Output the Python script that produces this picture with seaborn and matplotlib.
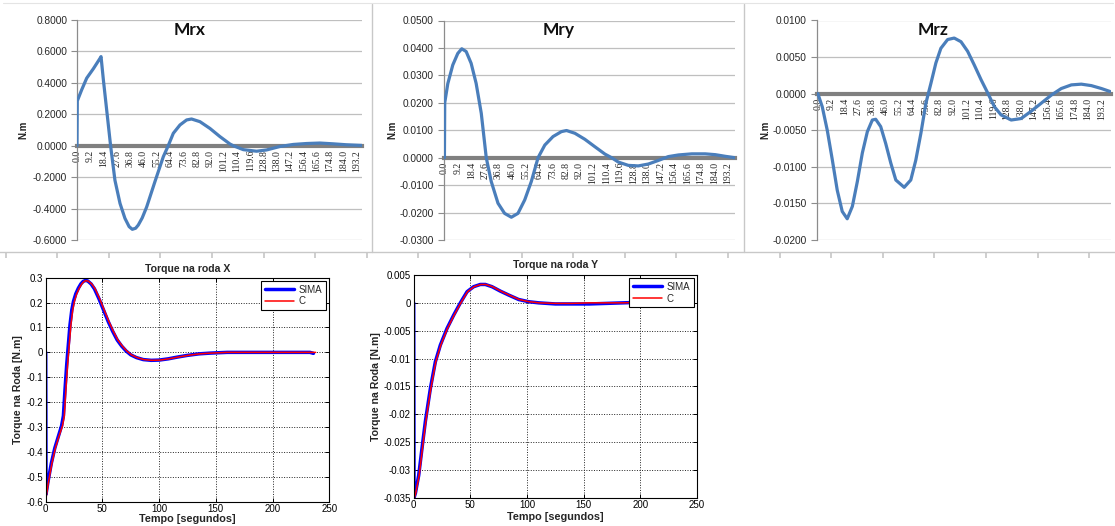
import matplotlib
matplotlib.use("Agg")
import matplotlib.pyplot as plt
import seaborn as sns
from matplotlib.lines import Line2D

# ---------------- data ----------------
cat_labels = ["0.0", "9.2", "18.4", "27.6", "36.8", "46.0", "55.2", "64.4", "73.6", "82.8",
              "92.0", "101.2", "110.4", "119.6", "128.8", "138.0", "147.2", "156.4", "165.6",
              "174.8", "184.0", "193.2"]

mrx_t = [0, 0.2, 3.2, 6.7, 11.3, 15.9, 16.6, 18.2, 20.5, 23.2, 26.2, 29.7, 33.1, 36.0, 38.2,
         40.5, 42.3, 45.0, 48.1, 53.8, 59.6, 63.0, 66.5, 71.1, 75.7, 79.1, 84.9, 91.8, 98.7,
         105.6, 107.9, 114.8, 124.0, 130.9, 140.1, 149.3, 158.5, 167.7, 176.9, 186.1, 196.5]
mrx_v = [0, 0.285, 0.355, 0.43, 0.49, 0.556, 0.567, 0.42, 0.227, 0.0, -0.22, -0.367, -0.462,
         -0.515, -0.532, -0.525, -0.505, -0.46, -0.39, -0.229, -0.07, 0.0, 0.079, 0.132, 0.164,
         0.17, 0.153, 0.11, 0.058, 0.011, 0.0, -0.025, -0.035, -0.027, -0.005, 0.008, 0.014,
         0.017, 0.012, 0.006, 0.002]

mry_t = [0, 0.2, 2.3, 5.7, 9.1, 11.8, 14.8, 18.2, 21.6, 25.1, 28.5, 31.9, 36.5, 41.0, 45.6,
         50.1, 54.7, 59.2, 63.8, 68.4, 74.0, 79.7, 83.2, 88.9, 95.7, 102.5, 109.4, 113.9,
         118.5, 125.3, 132.1, 139.0, 145.8, 152.6, 159.5, 168.6, 177.7, 184.6, 191.4, 197.8]
mry_v = [0, 0.020, 0.027, 0.0338, 0.038, 0.0397, 0.0387, 0.0344, 0.0271, 0.0162, 0.0, -0.0087,
         -0.0166, -0.0203, -0.0217, -0.0203, -0.0154, -0.0087, 0.0, 0.0046, 0.0077, 0.0095,
         0.0099, 0.0089, 0.0067, 0.004, 0.0013, 0.0, -0.0016, -0.0028, -0.003, -0.0023, -0.001,
         0.0004, 0.001, 0.0014, 0.0014, 0.0011, 0.0005, 0.0]

mrz_t = [0, 3.0, 6.4, 9.8, 13.2, 16.6, 20.0, 23.5, 26.9, 30.3, 33.7, 37.1, 39.4, 42.8, 46.2,
         49.7, 53.1, 58.8, 63.3, 66.7, 70.2, 73.6, 77.0, 80.4, 83.8, 88.4, 92.9, 97.5, 102.0,
         106.6, 111.2, 115.7, 120.3, 124.8, 131.7, 138.5, 145.3, 152.2, 159.0, 165.8, 172.7,
         179.5, 186.3, 193.2, 199.0]
mrz_v = [0, -0.0018, -0.005, -0.009, -0.0132, -0.0161, -0.0171, -0.0154, -0.012, -0.0081,
         -0.0052, -0.0036, -0.0035, -0.0045, -0.0068, -0.0095, -0.0118, -0.0128, -0.0118,
         -0.0091, -0.0054, -0.0013, 0.0014, 0.0042, 0.0062, 0.0074, 0.0076, 0.0071, 0.0058,
         0.0039, 0.0019, 0.0001, -0.0018, -0.0029, -0.0036, -0.0034, -0.0024, -0.0013,
         -0.0002, 0.0007, 0.0012, 0.0013, 0.0011, 0.0007, 0.0003]

# Torque na roda X
tx_sima_t = [0, 0.3, 2, 5, 8, 11, 14, 15.6, 17, 18.5, 19.4, 21.4, 23, 24.5, 26.5, 28.8, 31, 33,
             35, 37, 40, 43, 47, 51, 55, 59, 63, 67, 71, 75, 80, 86, 93, 100, 108, 116, 125,
             135, 145, 160, 180, 200, 220, 233, 236]
tx_sima_v = [0, -0.57, -0.52, -0.445, -0.385, -0.34, -0.295, -0.255, -0.15, -0.05, 0.0, 0.11,
             0.17, 0.205, 0.235, 0.258, 0.275, 0.285, 0.289, 0.287, 0.275, 0.255, 0.215, 0.17,
             0.125, 0.085, 0.05, 0.025, 0.005, -0.01, -0.021, -0.029, -0.032, -0.031, -0.026,
             -0.019, -0.012, -0.006, -0.003, 0.0, 0.0, 0.0, 0.0, 0.0, -0.004]
tx_c_t = [0, 0.3, 2.5, 5.5, 8.5, 11.5, 14.8, 16.4, 17.8, 19.3, 20.2, 22.2, 23.8, 25.3, 27.3,
          29.6, 31.8, 33.8, 35.6, 37.6, 40.6, 43.6, 47.6, 51.6, 55.6, 59.6, 63.6, 67.6, 71.6,
          75.6, 80.6, 86.6, 93.6, 100.6, 108.6, 116.6, 125.6, 135.6, 145.6, 160, 180, 200, 220,
          235, 238]
tx_c_v = [0, -0.585, -0.52, -0.445, -0.385, -0.34, -0.295, -0.255, -0.15, -0.05, 0.0, 0.11,
          0.17, 0.205, 0.235, 0.258, 0.275, 0.285, 0.288, 0.286, 0.275, 0.255, 0.215, 0.17,
          0.125, 0.085, 0.05, 0.025, 0.005, -0.01, -0.021, -0.029, -0.032, -0.031, -0.026,
          -0.019, -0.012, -0.006, -0.003, 0.0, 0.0, 0.0, 0.0, 0.0, 0.0]

# Torque na roda Y
ty_sima_t = [0, 0.3, 1.5, 4.4, 7.4, 10.3, 14.7, 19.1, 23.5, 29.4, 35.3, 41.2, 47.1, 52.9, 58.8,
             63.2, 69.1, 76.5, 83.8, 92.6, 101.5, 110.3, 125, 140, 155, 170, 185, 200, 220, 237]
ty_sima_v = [0, -0.035, -0.0342, -0.031, -0.026, -0.0213, -0.0154, -0.0106, -0.0076, -0.0046,
             -0.0022, 0.0, 0.002, 0.0029, 0.0033, 0.0033, 0.0029, 0.0021, 0.0014, 0.0006,
             0.0002, 0.0, -0.0002, -0.0002, -0.0002, -0.0001, 0.0, 0.0001, 0.0001, 0.0001]
ty_c_t = [0, 0.3, 1.8, 4.8, 7.8, 10.7, 15.1, 19.5, 23.9, 29.8, 35.7, 41.6, 47.5, 53.3, 59.2,
          63.6, 69.5, 76.9, 84.2, 93.0, 101.9, 110.7, 125, 140, 155, 170, 185, 200, 220, 237]
ty_c_v = [0, -0.0352, -0.0342, -0.031, -0.026, -0.0213, -0.0154, -0.0106, -0.0076, -0.0046,
          -0.0022, 0.0, 0.002, 0.0029, 0.0033, 0.0033, 0.0029, 0.0021, 0.0014, 0.0006,
          0.0002, 0.0, -0.0001, -0.0001, 0.0, 0.0, 0.0, 0.0001, 0.0001, 0.0001]

tx_yticks = [0.3, 0.2, 0.1, 0, -0.1, -0.2, -0.3, -0.4, -0.5, -0.6]
tx_ylabels = ["0.3", "0.2", "0.1", "0", "-0.1", "-0.2", "-0.3", "-0.4", "-0.5", "-0.6"]
ty_yticks = [0.005, 0, -0.005, -0.01, -0.015, -0.02, -0.025, -0.03, -0.035]
ty_ylabels = ["0.005", "0", "-0.005", "-0.01", "-0.015", "-0.02", "-0.025", "-0.03", "-0.035"]
t_xticks = [0, 50, 100, 150, 200, 250]

# ---------------- style ----------------
sns.set_theme(style="white")
plt.rcParams['font.family'] = ['Liberation Sans', 'DejaVu Sans']
plt.rcParams['axes.unicode_minus'] = False

W, H = 1115, 526
fig = plt.figure(figsize=(W / 100, H / 100), dpi=100, facecolor='white')


def rect(l, t, r, b):
    return [l / W, 1 - b / H, (r - l) / W, (b - t) / H]


# decorative frame of the Excel chart strip
for xs in (372, 744):
    fig.add_artist(Line2D([xs / W, xs / W], [1 - 4 / H, 1 - 252 / H],
                          transform=fig.transFigure, color='#c8c8c8', lw=1.0))
fig.add_artist(Line2D([3 / W, 1113 / W], [1 - 3 / H, 1 - 3 / H],
                      transform=fig.transFigure, color='#e4e4e4', lw=0.8))
ruler = fig.add_axes([0, 1 - 252 / H, 1, 0.0005])
ruler.set_xlim(0, W)
for s in ['left', 'right', 'bottom']:
    ruler.spines[s].set_visible(False)
ruler.spines['top'].set_color('#c8c8c8')
ruler.spines['top'].set_linewidth(1.0)
ruler.set_yticks([])
ruler.set_xticks([5.5 + 51.6 * k for k in range(22)])
ruler.xaxis.set_ticks_position('top')
ruler.tick_params(axis='x', direction='in', length=4, color='#c8c8c8', labeltop=False,
                  labelbottom=False)
ruler.patch.set_alpha(0)

cat_pos = [float(s) for s in cat_labels]


def excel_panel(r, t, v, title, ylim, yticks, xlim, ylabel_x):
    ax = fig.add_axes(r)
    sns.lineplot(x=t, y=v, ax=ax, color='#4a7ebb', lw=2.3, sort=False, estimator=None,
                 zorder=3)
    ax.set_xlim(*xlim)
    ax.set_ylim(*ylim)
    ax.set_yticks(yticks)
    ax.set_yticklabels([f"{y:.4f}" for y in yticks], fontsize=7.3, color='#262626')
    ax.yaxis.grid(True, color='#bfbfbf', lw=0.9)
    ax.xaxis.grid(False)
    ax.set_axisbelow(True)
    for s in ['top', 'right']:
        ax.spines[s].set_visible(False)
    ax.spines['left'].set_color('#8c8c8c')
    ax.spines['left'].set_linewidth(0.9)
    ax.spines['bottom'].set_position(('data', 0))
    ax.spines['bottom'].set_color('#808080')
    ax.spines['bottom'].set_linewidth(3.0)
    ax.set_xticks(cat_pos)
    ax.set_xticklabels(cat_labels, rotation=90, fontsize=7, family='Liberation Serif',
                       color='#262626')
    ax.tick_params(axis='x', length=0, pad=3, bottom=True)
    ax.tick_params(axis='y', length=4, color='#8c8c8c', width=0.8, pad=3, left=True)
    ax.set_xlabel('')
    ax.set_ylabel('N.m', fontsize=7, fontweight='bold', color='#202020')
    ax.yaxis.set_label_coords(ylabel_x, 0.5)
    ax.text(0.395, 0.955, title, transform=ax.transAxes, ha='center', va='center',
            fontsize=12.5, fontweight='bold', family='Lato', color='#101010')
    return ax


excel_panel(rect(77, 20, 362, 240), mrx_t, mrx_v, 'Mrx', (-0.6, 0.8),
            [0.8, 0.6, 0.4, 0.2, 0.0, -0.2, -0.4, -0.6], (0, 196.8), -0.172)
excel_panel(rect(443.7, 20.5, 734.7, 240), mry_t, mry_v, 'Mry', (-0.03, 0.05),
            [0.05, 0.04, 0.03, 0.02, 0.01, 0.0, -0.01, -0.02, -0.03], (-0.5, 197.8), -0.16)
excel_panel(rect(816.7, 20.5, 1110.7, 240), mrz_t, mrz_v, 'Mrz', (-0.02, 0.01),
            [0.01, 0.005, 0.0, -0.005, -0.01, -0.015, -0.02], (-0.8, 199.5), -0.159)


def matlab_panel(r, st, sv, ct, cv, title, ylim, yticks, ylabels, ylabel_x, xlabel_y, title_pad):
    ax = fig.add_axes(r)
    sns.lineplot(x=st, y=sv, ax=ax, color='#0000ff', lw=2.5, sort=False, estimator=None,
                 label='SIMA')
    sns.lineplot(x=ct, y=cv, ax=ax, color='#ff0000', lw=1.1, sort=False, estimator=None,
                 label='C')
    ax.set_xlim(0, 250)
    ax.set_ylim(*ylim)
    ax.set_xticks(t_xticks)
    ax.set_xticklabels([str(x) for x in t_xticks], fontsize=7)
    ax.set_yticks(yticks)
    ax.set_yticklabels(ylabels, fontsize=7)
    ax.grid(True, color='#222222', lw=0.7, linestyle=(0, (1, 1.6)))
    for s in ax.spines.values():
        s.set_visible(True)
        s.set_color('black')
        s.set_linewidth(0.8)
    ax.tick_params(direction='in', length=3, width=0.7, color='black', top=True, right=True,
                   bottom=True, left=True, pad=2, labelcolor='black')
    ax.set_title(title, fontsize=7.6, fontweight='bold', pad=title_pad)
    ax.set_xlabel('Tempo [segundos]', fontsize=7.8, fontweight='bold')
    ax.xaxis.set_label_coords(0.5, xlabel_y)
    ax.set_ylabel('Torque na Roda [N.m]', fontsize=7.6, fontweight='bold')
    ax.yaxis.set_label_coords(ylabel_x, 0.5)
    leg = ax.legend(loc='upper right', fontsize=7, frameon=True, fancybox=False,
                    edgecolor='black', borderaxespad=0.35, handlelength=3.0,
                    handletextpad=0.5, borderpad=0.35, labelspacing=0.2, framealpha=1.0)
    leg.get_frame().set_linewidth(0.8)
    return ax


matlab_panel(rect(45.7, 277.7, 329.3, 501.7), tx_sima_t, tx_sima_v, tx_c_t, tx_c_v,
             'Torque na roda X', (-0.6, 0.3), tx_yticks, tx_ylabels, -0.08, -0.055, 4)
matlab_panel(rect(413.7, 275, 697, 497.7), ty_sima_t, ty_sima_v, ty_c_t, ty_c_v,
             'Torque na roda Y', (-0.035, 0.005), ty_yticks, ty_ylabels, -0.115, -0.064, 5)

fig.savefig('out.png', dpi=100, facecolor='white')
